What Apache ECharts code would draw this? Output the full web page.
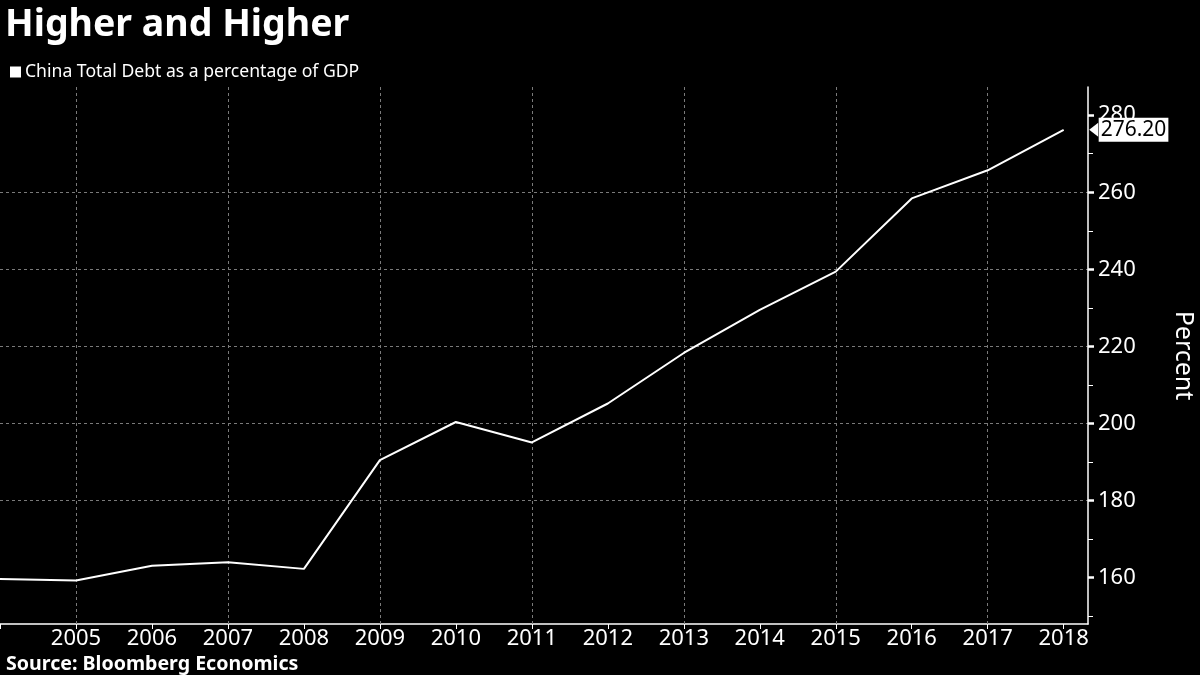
<!DOCTYPE html>
<html>
<head>
<meta charset="utf-8">
<style>
  html, body { margin: 0; padding: 0; background: #000; }
  #chart { width: 1200px; height: 675px; }
</style>
<script src="https://cdn.jsdelivr.net/npm/echarts@6/dist/echarts.min.js"></script>
</head>
<body>
<div id="chart"></div>
<script>
const years = [2004, 2005, 2006, 2007, 2008, 2009, 2010, 2011, 2012, 2013, 2014, 2015, 2016, 2017, 2018];
const debtPctGDP = [159.7, 159.3, 163.1, 164.0, 162.3, 190.5, 200.4, 195.1, 205.2, 218.3, 229.5, 239.4, 258.4, 265.7, 276.2];
const xLabelYears = [2005, 2006, 2007, 2008, 2009, 2010, 2011, 2012, 2013, 2014, 2015, 2016, 2017, 2018];
const xGridYears = [2005, 2007, 2009, 2011, 2013, 2015, 2017];
const yTickValues = [160, 180, 200, 220, 240, 260, 280];

const FONT = 'Noto Sans';
const chart = echarts.init(document.getElementById('chart'), null, { renderer: 'canvas' });

const option = {
  backgroundColor: '#000000',
  animation: false,
  textStyle: { fontFamily: FONT, color: '#ffffff' },
  title: [
    {
      text: 'Higher and Higher',
      left: 0, top: 1,
      textStyle: { fontFamily: FONT, fontSize: 37.5, fontWeight: 'bold', color: '#ffffff' }
    },
    {
      text: 'Source: Bloomberg Economics',
      left: 1, top: 649,
      textStyle: { fontFamily: FONT, fontSize: 19.6, fontWeight: 'bold', color: '#ffffff' }
    }
  ],
  legend: {
    left: 5, top: 58,
    icon: 'rect', itemWidth: 11, itemHeight: 11, itemGap: 4,
    textStyle: { fontFamily: FONT, fontSize: 17.6, color: '#ffffff', padding: [0, 0, 0, -1] },
    data: ['China Total Debt as a percentage of GDP']
  },
  grid: { left: 0, right: 112, top: 87, bottom: 51, containLabel: false, outerBoundsMode: 'none' },
  xAxis: {
    type: 'value',
    min: 2004, max: 2018.32,
    axisLine: { show: true, lineStyle: { color: '#ffffff', width: 1.5 } },
    axisTick: { show: true, length: 5, lineStyle: { color: '#ffffff', width: 1 }, customValues: years },
    axisLabel: {
      show: true, color: '#ffffff', fontSize: 22, fontFamily: FONT, margin: 4,
      customValues: xLabelYears,
      formatter: v => String(v)
    },
    splitLine: { show: false }
  },
  yAxis: {
    type: 'value',
    position: 'right',
    min: 148, max: 287.3,
    splitNumber: 7,
    name: 'Percent',
    nameLocation: 'middle',
    nameRotate: -90,
    nameGap: 83,
    nameTextStyle: { color: '#ffffff', fontSize: 25, fontFamily: FONT },
    axisLine: { show: true, lineStyle: { color: '#ffffff', width: 1.5 } },
    axisTick: { show: true, length: 6, lineStyle: { color: '#ffffff', width: 2.5 }, customValues: yTickValues },
    minorTick: { show: true, splitNumber: 2, length: 5, lineStyle: { color: '#ffffff', width: 1 } },
    axisLabel: {
      show: true, color: '#ffffff', fontSize: 22, fontFamily: FONT, margin: 10,
      customValues: yTickValues
    },
    splitLine: {
      show: true, showMinLine: false, showMaxLine: false,
      lineStyle: { color: '#7a7a7a', type: [3, 3], width: 1 }
    }
  },
  series: [
    {
      name: 'China Total Debt as a percentage of GDP',
      type: 'line',
      data: years.map((y, i) => [y, debtPctGDP[i]]),
      showSymbol: false,
      symbol: 'none',
      itemStyle: { color: '#ffffff' },
      lineStyle: { color: '#ffffff', width: 2 },
      endLabel: {
        show: true,
        formatter: p => p.value[1].toFixed(2),
        color: '#000000',
        backgroundColor: '#ffffff',
        fontSize: 21,
        fontFamily: FONT,
        padding: [2, 2, 1, 2],
        offset: [27, 0]
      },
      markPoint: {
        silent: true,
        symbol: 'triangle',
        symbolSize: [14, 9],
        symbolRotate: 90,
        symbolOffset: [30, 0],
        itemStyle: { color: '#ffffff' },
        label: { show: false },
        data: [{ coord: [years[years.length - 1], debtPctGDP[debtPctGDP.length - 1]] }]
      },
      markLine: {
        silent: true,
        symbol: ['none', 'none'],
        label: { show: false },
        lineStyle: { color: '#7a7a7a', type: [3, 3], width: 1 },
        z: 1,
        data: xGridYears.map(y => ({ xAxis: y }))
      },
      z: 5
    }
  ]
};

chart.setOption(option);
</script>
</body>
</html>
